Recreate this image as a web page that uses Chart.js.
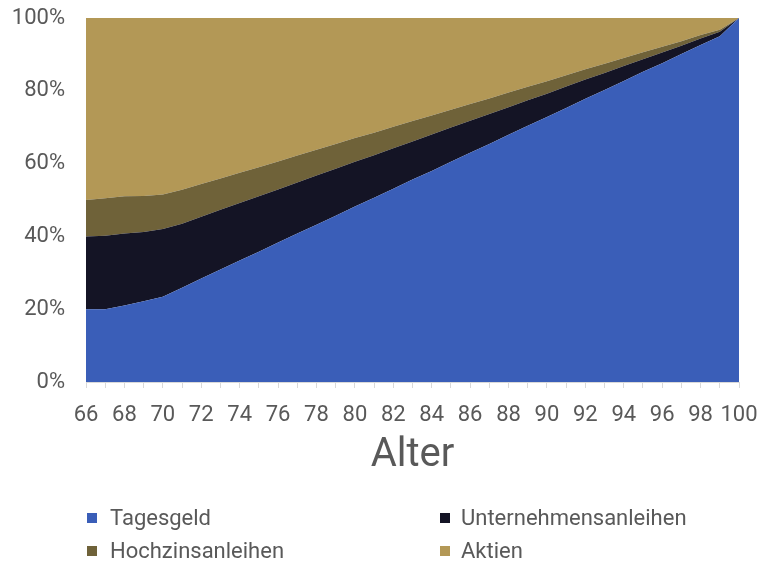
<!DOCTYPE html>
<html lang="de">
<head>
<meta charset="utf-8">
<script src="https://cdn.jsdelivr.net/npm/chart.js@4/dist/chart.umd.min.js"></script>
<style>
  html, body { margin: 0; padding: 0; background: #ffffff; }
  #wrap { position: relative; width: 757px; height: 562px; overflow: hidden; }
  #wrap canvas { position: absolute; left: 0; top: 0; }
  .legend { position: absolute; left: 0; top: 0; width: 757px; height: 562px; pointer-events: none;
            font-family: Roboto, "Open Sans", sans-serif; font-size: 22px; color: #595959; }
  .legend .item { position: absolute; white-space: nowrap; line-height: 26px; }
  .legend .box { position: absolute; width: 10px; height: 10px; top: 8px; }
  .legend .txt { position: absolute; top: 0; }
</style>
</head>
<body>
<div id="wrap">
  <canvas id="chart" width="757" height="562"></canvas>
  <div class="legend" id="legend"></div>
</div>
<script>
// Alter (Jahre)
const ages = [66, 67, 68, 69, 70, 71, 72, 73, 74, 75, 76, 77, 78, 79, 80, 81, 82, 83,
              84, 85, 86, 87, 88, 89, 90, 91, 92, 93, 94, 95, 96, 97, 98, 99, 100];

// Anteile je Anlageklasse in Prozent
const tagesgeld = [20, 20, 21, 22.2, 23.4, 25.9, 28.4, 30.9, 33.4, 35.8, 38.3, 40.8, 43.2, 45.7, 48.2,
                   50.6, 53.1, 55.6, 58.0, 60.5, 63.0, 65.4, 67.9, 70.4, 72.8,
                   75.3, 77.8, 80.2, 82.7, 85.2, 87.6, 90.1, 92.6, 95.0, 100];
const unternehmensanleihen = [20, 20.2, 19.8, 19.0, 18.6, 17.6, 17.0, 16.4, 15.8, 15.2, 14.6, 14.0, 13.5, 12.9, 12.3,
                              11.7, 11.1, 10.5, 10.0, 9.4, 8.8, 8.2, 7.6, 7.0, 6.4,
                              5.9, 5.3, 4.7, 4.1, 3.5, 2.9, 2.3, 1.8, 1.2, 0];
const hochzinsanleihen = [10, 10.3, 10.2, 9.9, 9.5, 9.3, 9.0, 8.6, 8.3, 8.0, 7.7, 7.4, 7.1, 6.8, 6.5,
                          6.2, 5.9, 5.6, 5.2, 4.9, 4.6, 4.3, 4.0, 3.7, 3.4,
                          3.1, 2.8, 2.5, 2.2, 1.9, 1.6, 1.2, 0.9, 0.6, 0];
const aktien = [50, 49.5, 49, 48.9, 48.5, 47.2, 45.6, 44.1, 42.5, 41.0, 39.4, 37.8, 36.2, 34.6, 33.0,
                31.5, 29.9, 28.3, 26.8, 25.2, 23.6, 22.1, 20.5, 18.9, 17.4,
                15.7, 14.1, 12.6, 11.0, 9.4, 7.9, 6.4, 4.7, 3.2, 0];

const yTicks = [0, 20, 40, 60, 80, 100];

const seriesNames = ['Tagesgeld', 'Unternehmensanleihen', 'Hochzinsanleihen', 'Aktien'];
const seriesValues = [tagesgeld, unternehmensanleihen, hochzinsanleihen, aktien];
const seriesColors = ['#3A5EB8', '#141425', '#6F6239', '#B39856'];

const FONT = 'Roboto, "Open Sans", sans-serif';
const TEXT = '#595959';
const AXIS = '#D9D9D9';

// Achsen ohne automatische Randabstände, damit der Plotbereich fest sitzt
function noScalePadding(s) {
  s.paddingTop = 0; s.paddingBottom = 0; s.paddingLeft = 0; s.paddingRight = 0;
}

const datasets = seriesNames.map((name, i) => ({
  label: name,
  data: seriesValues[i],
  backgroundColor: seriesColors[i],
  borderColor: seriesColors[i],
  borderWidth: 0,
  pointRadius: 0,
  pointHoverRadius: 0,
  tension: 0,
  fill: i === 0 ? 'origin' : '-1'
}));

new Chart(document.getElementById('chart'), {
  type: 'line',
  data: { labels: ages.map(String), datasets },
  options: {
    responsive: false,
    animation: false,
    layout: { padding: { left: 0, right: 18, top: 18, bottom: 82 } },
    plugins: { legend: { display: false }, tooltip: { enabled: false } },
    scales: {
      x: {
        type: 'category',
        offset: false,
        afterFit: (s) => { s.height = 98; noScalePadding(s); },
        grid: { drawOnChartArea: false, drawTicks: true, tickLength: 6, color: AXIS, lineWidth: 1 },
        border: { display: true, color: AXIS, width: 1 },
        ticks: {
          autoSkip: false,
          maxRotation: 0,
          minRotation: 0,
          padding: 14,
          color: TEXT,
          font: { family: FONT, size: 22 },
          callback: (v, i) => (ages[i] % 2 === 0 ? String(ages[i]) : '')
        },
        title: {
          display: true,
          text: 'Alter',
          color: TEXT,
          font: { family: FONT, size: 40 },
          padding: { top: 0, bottom: 0 }
        }
      },
      y: {
        stacked: true,
        min: 0,
        max: 100,
        afterFit: (s) => { s.width = 86; noScalePadding(s); },
        afterBuildTicks: (s) => { s.ticks = yTicks.map(v => ({ value: v })); },
        grid: {
          drawTicks: false,
          color: (ctx) => (ctx.tick && ctx.tick.value === 100 ? AXIS : 'rgba(0,0,0,0)')
        },
        border: { display: false },
        ticks: {
          padding: 21,
          color: TEXT,
          font: { family: FONT, size: 22 },
          callback: (v) => v + '%'
        }
      }
    }
  }
});

// Legende in zwei Spalten
const legendPos = [
  { box: 87, text: 110, y: 505 },
  { box: 440, text: 461, y: 505 },
  { box: 87, text: 110, y: 538 },
  { box: 440, text: 461, y: 538 }
];
const legendEl = document.getElementById('legend');
seriesNames.forEach((name, i) => {
  const p = legendPos[i];
  const item = document.createElement('div');
  item.className = 'item';
  item.style.left = '0px';
  item.style.top = p.y + 'px';
  const box = document.createElement('span');
  box.className = 'box';
  box.style.left = p.box + 'px';
  box.style.background = seriesColors[i];
  const txt = document.createElement('span');
  txt.className = 'txt';
  txt.style.left = p.text + 'px';
  txt.textContent = name;
  item.appendChild(box);
  item.appendChild(txt);
  legendEl.appendChild(item);
});
</script>
</body>
</html>
